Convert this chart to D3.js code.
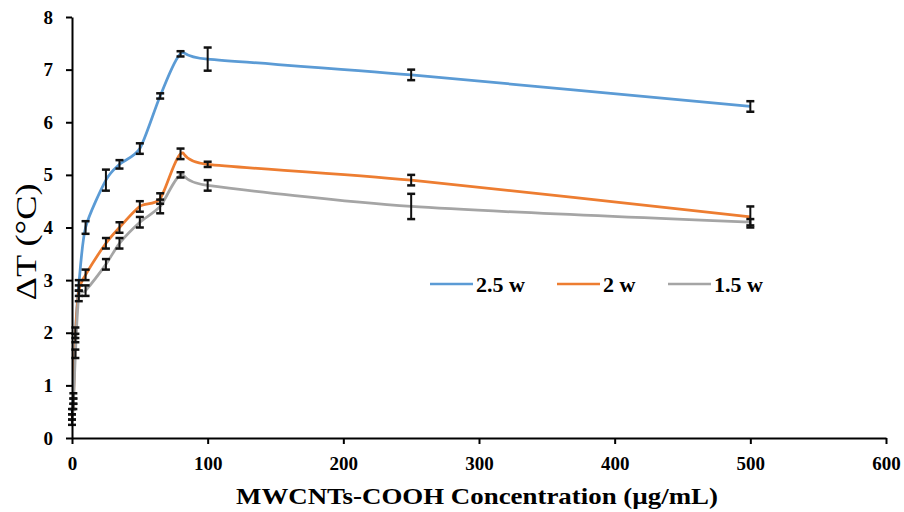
<!DOCTYPE html>
<html>
<head>
<meta charset="utf-8">
<script src="https://cdn.jsdelivr.net/npm/d3@7"></script>
<style>
  body { margin: 0; background: #fff; }
  text { font-family: "Liberation Serif", "Times New Roman", serif; }
</style>
</head>
<body>
<div id="chart"></div>
<script>
const width = 904, height = 512;

// concentrations (ug/mL)
const conc = [0, 1, 2.5, 5, 10, 25, 35, 50, 65, 80, 100, 250, 500];

// delta T for each power
const dt25 = [0.5, 0.8, 2.0, 2.9, 4.0, 4.9, 5.2, 5.5, 6.5, 7.3, 7.2, 6.9, 6.3];
const dt20 = [0.4, 0.7, 1.9, 2.8, 3.1, 3.7, 4.0, 4.4, 4.55, 5.4, 5.2, 4.9, 4.2];
const dt15 = [0.3, 0.6, 1.6, 2.7, 2.8, 3.3, 3.7, 4.1, 4.4, 5.0, 4.8, 4.4, 4.1];

// error (+/-)
const err25 = [0.05, 0.05, 0.1, 0.1, 0.12, 0.2, 0.08, 0.1, 0.05, 0.05, 0.22, 0.1, 0.1];
const err20 = [0.05, 0.05, 0.08, 0.1, 0.1, 0.1, 0.1, 0.1, 0.1, 0.1, 0.05, 0.1, 0.2];
const err15 = [0.05, 0.05, 0.08, 0.1, 0.1, 0.1, 0.1, 0.1, 0.13, 0.05, 0.1, 0.24, 0.06];

const seriesNames = ["2.5 w", "2 w", "1.5 w"];
const colors = ["#5B9BD5", "#ED7D31", "#A5A5A5"];

const xTicks = [0, 100, 200, 300, 400, 500, 600];
const yTicks = [0, 1, 2, 3, 4, 5, 6, 7, 8];

const series = [
  { name: seriesNames[0], vals: dt25, err: err25, color: colors[0] },
  { name: seriesNames[1], vals: dt20, err: err20, color: colors[1] },
  { name: seriesNames[2], vals: dt15, err: err15, color: colors[2] }
];

const x = d3.scaleLinear().domain([0, 600]).range([72, 886]);
const y = d3.scaleLinear().domain([0, 8]).range([438, 17]);

const svg = d3.select("#chart").append("svg")
  .attr("width", width).attr("height", height);

// smoothed lines (excel-ish)
const line = d3.line()
  .x(d => x(d[0]))
  .y(d => y(d[1]))
  .curve(d3.curveCardinal.tension(0.25));

series.forEach(function(s){
  svg.append("path")
    .datum(conc.map((c, i) => [c, s.vals[i]]))
    .attr("fill", "none")
    .attr("stroke", s.color)
    .attr("stroke-width", 2.75)
    .attr("d", line);
});

// error bars
series.forEach(function(s){
  const g = svg.append("g").attr("stroke", "#111").attr("stroke-width", 2);
  conc.forEach(function(c, i){
    const cx = x(c), y1 = y(s.vals[i] + s.err[i]), y2 = y(s.vals[i] - s.err[i]);
    g.append("line").attr("x1", cx).attr("x2", cx).attr("y1", y1).attr("y2", y2);
    g.append("line").attr("x1", cx - 4).attr("x2", cx + 4).attr("y1", y1).attr("y2", y1).attr("stroke-width", 2.5);
    g.append("line").attr("x1", cx - 4).attr("x2", cx + 4).attr("y1", y2).attr("y2", y2).attr("stroke-width", 2.5);
  });
});

// axes
const xAxis = svg.append("g")
  .attr("transform", "translate(0," + y(0) + ")")
  .call(d3.axisBottom(x).tickValues(xTicks).tickSize(6).tickPadding(13).tickSizeOuter(0));
const yAxis = svg.append("g")
  .attr("transform", "translate(" + x(0) + ",0)")
  .call(d3.axisLeft(y).tickValues(yTicks).tickSize(6).tickPadding(13).tickSizeOuter(0));

[xAxis, yAxis].forEach(function(a){
  a.select(".domain").attr("stroke", "#000").attr("stroke-width", 2);
  a.selectAll(".tick line").attr("stroke", "#000").attr("stroke-width", 2);
  a.selectAll(".tick text")
    .attr("fill", "#000")
    .style("font-family", "'Liberation Serif', serif")
    .style("font-weight", "bold")
    .style("font-size", "19px");
});

// axis titles
svg.append("text")
  .attr("x", 477).attr("y", 504)
  .attr("text-anchor", "middle")
  .attr("textLength", 482)
  .attr("lengthAdjust", "spacingAndGlyphs")
  .style("font-weight", "bold")
  .style("font-size", "23px")
  .text("MWCNTs-COOH  Concentration (µg/mL)");

svg.append("text")
  .attr("transform", "translate(36,242) rotate(-90)")
  .attr("text-anchor", "middle")
  .attr("textLength", 117)
  .attr("lengthAdjust", "spacingAndGlyphs")
  .style("font-size", "30px")
  .text("ΔT (°C)");

// legend
const legendX = [430, 557, 668];
series.forEach(function(s, i){
  const lg = svg.append("g").attr("transform", "translate(" + legendX[i] + ",284)");
  lg.append("line").attr("x1", 0).attr("x2", 43).attr("y1", 0).attr("y2", 0)
    .attr("stroke", s.color).attr("stroke-width", 2.5);
  lg.append("text").attr("x", 46).attr("y", 8)
    .style("font-weight", "bold").style("font-size", "22px")
    .text(s.name);
});
</script>
</body>
</html>
